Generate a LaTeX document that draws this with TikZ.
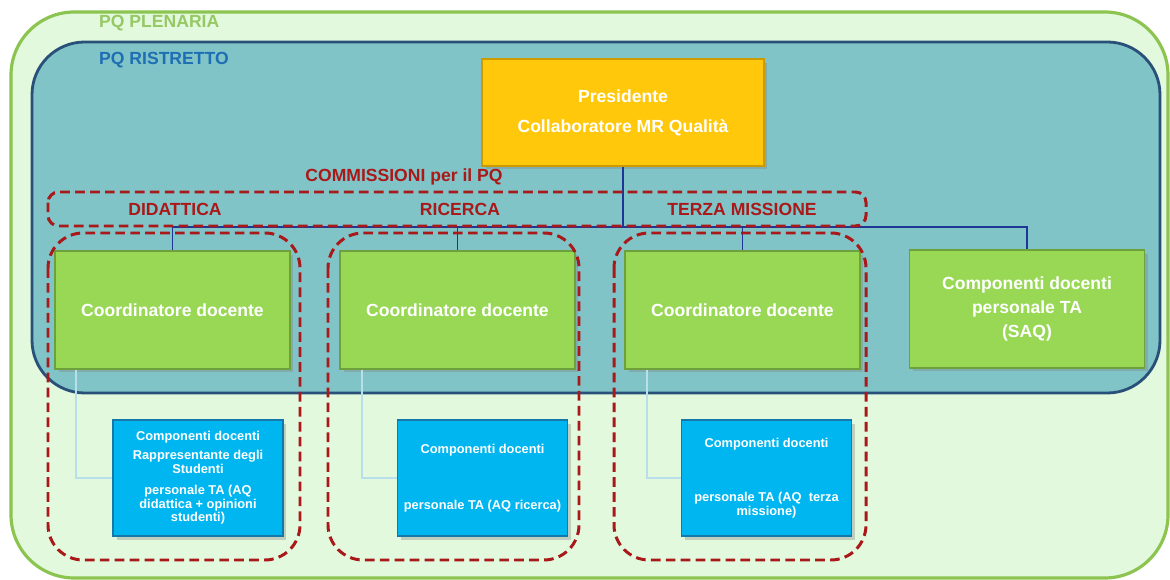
\documentclass[tikz,border=0pt]{standalone}
\usepackage{fontspec}
\setmainfont{Liberation Sans}
\usetikzlibrary{shadows,calc}

\definecolor{plenfill}{RGB}{226,249,222}
\definecolor{plenline}{RGB}{140,196,80}
\definecolor{plentext}{RGB}{150,200,100}
\definecolor{ristfill}{RGB}{128,196,200}
\definecolor{ristline}{RGB}{40,80,120}
\definecolor{risttext}{RGB}{30,110,180}
\definecolor{presfill}{RGB}{255,200,10}
\definecolor{presline}{RGB}{205,155,0}
\definecolor{coordfill}{RGB}{152,216,84}
\definecolor{coordline}{RGB}{110,160,60}
\definecolor{compfill}{RGB}{0,182,240}
\definecolor{compline}{RGB}{20,120,170}
\definecolor{commred}{RGB}{170,25,25}
\definecolor{linkblue}{RGB}{30,55,150}
\definecolor{sublinkblue}{RGB}{185,222,236}

\begin{document}
\begin{tikzpicture}[ x=0.02cm, y=-0.02cm,
    boxshadow/.style={drop shadow={opacity=0.35, shadow xshift=2pt, shadow yshift=-2pt}},
    presbox/.style={draw=presline, line width=1pt, fill=presfill, boxshadow,
        minimum width=5.64cm, minimum height=2.14cm, inner sep=0pt,
        text=white, align=center, font=\bfseries\fontsize{10}{17}\selectfont},
    coordbox/.style={draw=coordline, line width=1pt, fill=coordfill, boxshadow,
        minimum width=4.7cm, minimum height=2.36cm, inner sep=0pt,
        text=white, align=center, font=\bfseries\fontsize{10}{13.6}\selectfont},
    compbox/.style={draw=compline, line width=1pt, fill=compfill, boxshadow,
        minimum width=3.4cm, minimum height=2.32cm, inner sep=0pt,
        text=white, align=center, font=\bfseries\fontsize{7.3}{7.8}\selectfont},
    link/.style={draw=linkblue, line width=0.9pt},
    sublink/.style={draw=sublinkblue, line width=1pt},
    commdash/.style={draw=commred, line width=1.7pt, dash pattern=on 5.5pt off 3pt},
    commlabel/.style={text=commred, font=\bfseries\fontsize{10}{12}\selectfont}
]

    \useasboundingbox (0,0) rectangle (1170,580);

% PQ plenaria e PQ ristretto

    \draw[draw=plenline, fill=plenfill, line width=1.8pt, rounded corners=36pt] (11,12) rectangle (1168,578);
    \draw[draw=ristline, fill=ristfill, line width=1.6pt, rounded corners=30pt] (32,42) rectangle (1160,393);
    \node[anchor=west, text=plentext, font=\bfseries\fontsize{10}{12}\selectfont] (plenlabel) at (93,23) {PQ PLENARIA};
    \node[anchor=west, text=risttext, font=\bfseries\fontsize{10}{12}\selectfont] (ristlabel) at (93,60) {PQ RISTRETTO};

% Nodi

    \node[presbox] (pres) at (623,112.5) {Presidente\\Collaboratore MR Qualità};

    \node[coordbox] (coord1) at (172.5,310) {Coordinatore docente};
    \node[coordbox] (coord2) at (457.5,310) {Coordinatore docente};
    \node[coordbox] (coord3) at (742.5,310) {Coordinatore docente};
    \node[coordbox] (coord4) at (1027,309) {Componenti docenti\\personale TA\\(SAQ)};

    \node[compbox] (comp1) at (198,478) {Componenti docenti\\[3pt]Rappresentante degli\\Studenti\\[4pt]personale TA (AQ\\didattica + opinioni\\studenti)};
    \node[compbox] (comp2) at (482.5,478) {Componenti docenti\\[24pt]personale TA (AQ ricerca)};
    \node[compbox] (comp3) at (766.5,478) {Componenti docenti\\[23pt]personale TA (AQ~ terza\\missione)};

% Collegamenti

    \draw[link] (pres.south) -- ++(0,60) coordinate (bus);
    \foreach \n in {coord1,coord2,coord3,coord4}
        \draw[link] (\n.north) |- (bus);

    \draw[sublink] ($(coord1.south west)+(22,0)$) |- (comp1.west);
    \draw[sublink] ($(coord2.south west)+(23,0)$) |- (comp2.west);
    \draw[sublink] ($(coord3.south west)+(23,0)$) |- (comp3.west);

% Commissioni

    \draw[commdash, rounded corners=6pt] (48,192) rectangle (866,226);
    \draw[commdash, rounded corners=20pt] (48,233) rectangle (300,560);
    \draw[commdash, rounded corners=20pt] (328,233) rectangle (579,560);
    \draw[commdash, rounded corners=20pt] (614,233) rectangle (866,560);

    \node[commlabel] (commtitle) at (404,177) {COMMISSIONI per il PQ};
    \node[commlabel] (didattica) at (175,209) {DIDATTICA};
    \node[commlabel] (ricerca) at (460,209) {RICERCA};
    \node[commlabel] (terza) at (742,209) {TERZA MISSIONE};

\end{tikzpicture}
\end{document}
